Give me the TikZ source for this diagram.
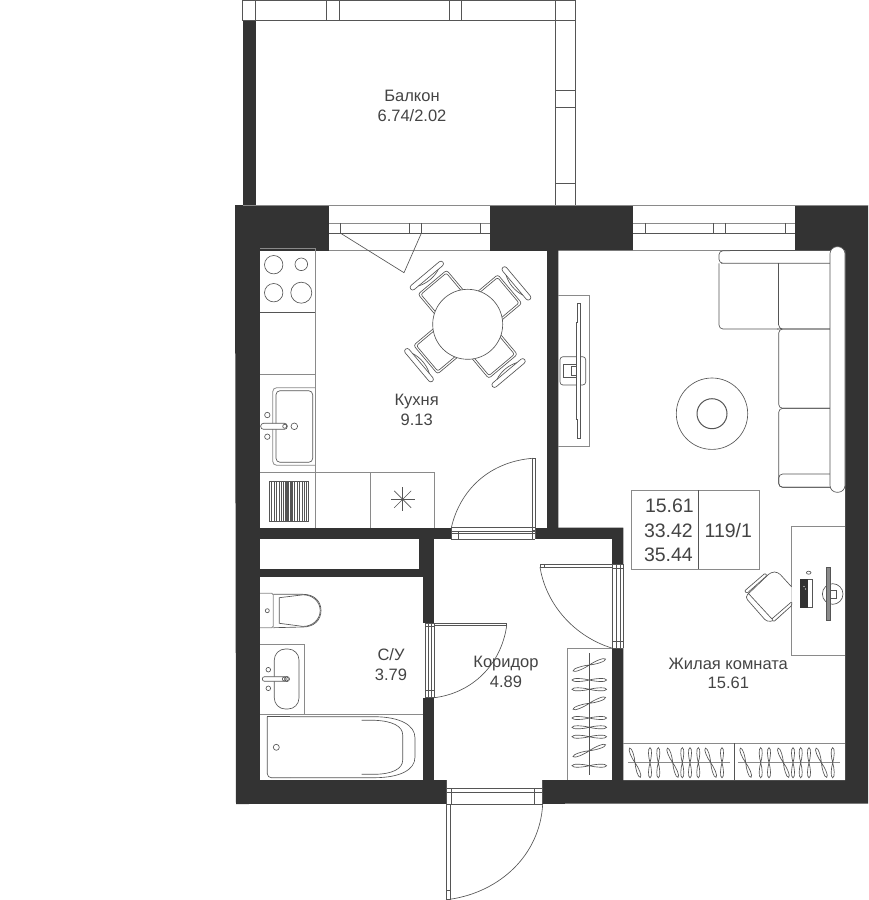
\documentclass[tikz,border=0pt]{standalone}
\usepackage{fontspec}
\setmainfont{Liberation Sans}
\definecolor{wallc}{HTML}{333333}
\definecolor{linec}{HTML}{555555}
\definecolor{lightl}{HTML}{8A8A8A}
\definecolor{textc}{HTML}{444444}
\tikzset{
  thin line/.style={draw=linec,line width=0.65pt},
  soft line/.style={draw=lightl,line width=0.8pt},
  room/.style={fill=white,draw=none},
  wall/.style={fill=wallc,draw=none},
  frame line/.style={draw=linec,line width=0.6pt},
  label text/.style={inner sep=0pt,text=textc,font=\fontsize{16.5}{16.5}\selectfont,text height=11.8pt,text depth=0pt,align=center},
  big text/.style={inner sep=0pt,text=textc,font=\fontsize{19.5}{19.5}\selectfont,text height=14pt,text depth=0pt}
}
\newcommand{\kchair}[3]{% x y angle
  \begin{scope}[shift={(#1,#2)},rotate=#3]
    \draw[thin line,fill=white,rounded corners=2.5pt] (-18.7,-25)--(-18.7,-55)--(18.7,-55)--(18.7,-25);
    \draw[thin line,rounded corners=2pt] (-16.6,-25)--(-16.6,-53)--(16.6,-53)--(16.6,-25);
    \draw[thin line,fill=white,rounded corners=2.6pt] (-21,-61)--(21,-61)--(21,-66.2)--(-21,-66.2)--cycle;
    \draw[thin line] (-13,-61) .. controls (-5,-57.5) and (5,-57.5) .. (13,-61);
  \end{scope}}
\newcommand{\hangpiece}[4]{% x y angle length-scale
  \begin{scope}[shift={(#1,#2)},rotate=#3,xscale=#4]
    \draw[thin line] (0,0) .. controls (-6,-1.6) and (-17,-2.4) .. (-17.3,0) .. controls (-17,2.4) and (-6,1.6) .. (0,0)
      .. controls (6,-1.6) and (17,-2.4) .. (17.3,0) .. controls (17,2.4) and (6,1.6) .. (0,0);
  \end{scope}}
\begin{document}
\begin{tikzpicture}[x=1pt,y=-1pt]
\useasboundingbox (0,0) rectangle (869,900);
\fill[white] (0,0) rectangle (869,900);
% --- walls
\fill[wall] (235,205)--(868,205)--(868,803.5)--(236,804)--cycle;
\fill[wall] (242.7,20.5) rectangle (255.7,205);
% --- rooms
\fill[room] (260,250.5) rectangle (546.7,527.7);
\fill[room] (558.3,250.5)--(845,250.5)--(845,780)--(623.3,780)--(623.3,527.7)--(558.3,527.7)--cycle;
\fill[room] (434.3,539.3) rectangle (612.3,780);
\fill[room] (260,539.3) rectangle (419,569);
\fill[room] (260,577.3) rectangle (422.7,780);
% --- openings
\fill[room] (329.3,205) rectangle (490.3,250.5);
\fill[room] (633,205) rectangle (794.7,250.5);
\fill[room] (451.3,527.7) rectangle (535,539.3);
\fill[room] (612.3,564.3) rectangle (623.3,648.3);
\fill[room] (422.7,623.3) rectangle (434.3,697.7);
\fill[room] (446,780) rectangle (542.7,804);
% --- balcony
\draw[thin line] (242.7,0.5) rectangle (575.7,20.5);
\draw[thin line] (555.3,0.5)--(555.3,205) (575.7,0.5)--(575.7,205);
\draw[thin line] (255.7,0.5)--(255.7,20.5) (326.7,0.5)--(326.7,20.5) (339.7,0.5)--(339.7,20.5) (449.3,0.5)--(449.3,20.5) (461.3,0.5)--(461.3,20.5);
\draw[thin line] (555.3,90)--(575.7,90) (555.3,107.3)--(575.7,107.3) (555.3,183)--(575.7,183);
\draw[soft line] (242.7,205)--(868,205);
% --- kitchen window
\draw[soft line] (329.3,223.3)--(490.3,223.3);
\draw[thin line] (329.3,233.3)--(490.3,233.3);
\draw[thin line] (340.7,223.3)--(340.7,233.3) (409.3,223.3)--(409.3,233.3) (421.3,223.3)--(421.3,233.3) (480.3,223.3)--(480.3,233.3);
\draw[soft line] (329.3,250.5)--(490.3,250.5);
\draw[thin line] (340.7,233.3)--(404,272.7)--(421.3,233.3);
% --- room window
\draw[soft line] (633,223.3)--(794.7,223.3);
\draw[thin line] (633,233.3)--(794.7,233.3);
\draw[thin line] (645,223.3)--(645,233.3) (713.3,223.3)--(713.3,233.3) (725.3,223.3)--(725.3,233.3) (785,223.3)--(785,233.3);
\draw[soft line] (633,250.5)--(794.7,250.5);
% --- kitchen door
\draw[frame line] (451.3,527.7)--(535,527.7) (451.3,531)--(535,531) (451.3,533.5)--(535,533.5) (451.3,539.3)--(535,539.3);
\draw[frame line] (451.3,527.7)--(451.3,539.3) (458,531)--(458,539.3) (532,527.7)--(532,539.3) (535,527.7)--(535,539.3);
\draw[frame line] (532.3,458.3) rectangle (535,530);
\draw[thin line] (532.3,458.3) .. controls (489,462) and (460,490) .. (451.3,527.7);
% --- bathroom door
\draw[frame line] (425.7,623.3)--(425.7,697.7) (428.5,623.3)--(428.5,697.7) (431.5,623.3)--(431.5,697.7) (434.3,623.3)--(434.3,697.7);
\draw[frame line] (425.7,623.3)--(434.3,623.3) (425.7,626.7)--(434.3,626.7) (425.7,690)--(434.3,690) (425.7,697.7)--(434.3,697.7);
\draw[frame line] (434.3,623.3) rectangle (506.7,625.7);
\draw[thin line] (506.7,625.7) .. controls (501,665) and (472,693) .. (434.3,697.7);
% --- room door
\draw[frame line] (612.7,564.3)--(612.7,648.3) (616,564.3)--(616,648.3) (620,564.3)--(620,648.3) (623.3,564.3)--(623.3,648.3);
\draw[frame line] (612.7,564.3)--(623.3,564.3) (612.7,568)--(623.3,568) (612.7,641)--(623.3,641) (612.7,648.3)--(623.3,648.3);
\draw[frame line] (540,564.5) rectangle (612.7,567);
\draw[frame line] (544,564.5)--(544,567);
\draw[thin line] (540,567) .. controls (546,605) and (575,637) .. (612.7,648.3);
% --- entrance door
\draw[frame line] (446,780)--(446,804) (451,788)--(451,804) (534.3,788)--(534.3,804) (542.7,780)--(542.7,804);
\draw[frame line] (446,788)--(542.7,788) (446,792.5)--(542.7,792.5) (446,804)--(542.7,804);
\draw[frame line] (446,804) rectangle (449.8,899.3);
\draw[frame line] (446,890)--(449.8,890);
\draw[thin line] (449.8,899.3) .. controls (500,892) and (540,855) .. (542.7,804);
% --- kitchen furniture
\draw[soft line] (260,248.3)--(315.3,248.3)--(315.3,527.7);
\draw[thin line] (260,312.3)--(315.3,312.3);
\draw[soft line] (260,374.7)--(315.3,374.7);
\draw[soft line] (260,472.7)--(434,472.7)--(434,527.7);
\draw[soft line] (370.3,472.7)--(370.3,527.7);
\draw[thin line] (273.7,264.7) circle (9.2) (301.3,264.3) circle (6.3) (273.7,292.7) circle (9.2) (301.3,292.7) circle (10.5);
% stove star
\foreach \a in {0,45,...,315}{\draw[thin line] (402.7,499.3)--+(\a:12);}
\fill[linec] (402.7,499.3) circle (1.2);
% oven rack
\draw[thin line] (269.3,481.7) rectangle (308.7,521.7);
\foreach \x in {271.5,274,276.5,279,281.5,283.5,285,286.2,287.4,288.6,289.8,291,292.5,294.5,297,299.5,302,304.5,306.5}{\draw[frame line] (\x,481.7)--(\x,521.7);}
% kitchen sink
\draw[soft line,rounded corners=4pt] (315,387.7)--(272.7,387.7)--(272.7,465.3)--(315,465.3);
\draw[thin line,rounded corners=4pt] (276,390.7) rectangle (312.7,462.3);
\draw[thin line,fill=white,rounded corners=2.8pt] (260.7,423.3) rectangle (287.3,429.3);
\draw[thin line] (284.7,426.3) circle (2) (294.3,426.3) circle (3.3) (267.3,415) circle (2.7) (267.3,436.7) circle (2.7);
% chairs and table
\kchair{467.7}{324.3}{-50}
\kchair{467.7}{324.3}{-140}
\kchair{467.7}{324.3}{-230}
\kchair{467.7}{324.3}{-320}
\draw[thin line,fill=white] (467.7,324.3) circle (35);
% --- living room furniture
\draw[soft line] (558.3,295)--(589.3,295)--(589.3,446.7)--(558.3,446.7);
\draw[thin line,rounded corners=3pt] (560,356.7) rectangle (585.7,385);
\draw[thin line] (563.3,364) rectangle (576,377.3);
\draw[thin line] (571.7,366.7) rectangle (576,375);
\draw[thin line,fill=white] (577.7,303.3)--(580.7,303.3)--(580.7,438.7)--(577.7,438.7)--(577.7,419)--(576.7,419)--(576.7,322.7)--(577.7,322.7)--cycle;
\draw[thin line] (712,413.7) circle (35.7);
\draw[line width=1pt,draw=linec] (712,413.7) circle (15);
% sofa
\draw[thin line,rounded corners=4pt] (719,263.3)--(719,329)--(778.7,329);
\draw[thin line,rounded corners=4pt] (830,263.3)--(725,263.3)--(719,263.3)--(719,250.7)--(730,250.7);
\draw[thin line] (730,250.7)--(830,250.7);
\draw[thin line,rounded corners=4pt] (778.7,325)--(778.7,329)--(781,329)--(830,329);
\draw[thin line] (778.7,263.3)--(778.7,325);
\draw[thin line,rounded corners=4pt] (830,329)--(778.7,329)--(778.7,408.3)--(830,408.3);
\draw[thin line,rounded corners=4pt] (830,408.3)--(778.7,408.3)--(778.7,487.3)--(830,487.3);
\draw[thin line,rounded corners=4pt] (830,474)--(778.7,474)--(778.7,487.3)--(830,487.3);
\draw[thin line,fill=white,rounded corners=7pt] (830,246.7) rectangle (845,492.3);
% desk
\draw[soft line] (845,526.7)--(791.7,526.7)--(791.7,655.7)--(845,655.7);
\draw[thin line] (832.7,594) circle (10.3);
\draw[thin line] (830.5,590) rectangle (836,598);
\draw[thin line,fill=lightl] (826,567.7) rectangle (830,620);
\draw[thin line,fill=white] (800,579.3) rectangle (812.7,607.7);
\fill[wallc] (800,579.3) rectangle (808.3,607.7);
\fill[white] (804,586.5) circle (0.7) (805.5,589) circle (0.7);
\draw[thin line] (808.7,572.7) ellipse (2.3 and 1.5);
% desk chair
\draw[thin line,fill=white,rounded corners=3.5pt] (791.7,587)--(778,572)--(771,572)--(745,597)--(767,622)--(776,620)--(791.7,604);
\draw[thin line,rounded corners=1pt] (748,593)--(772,619);
\draw[thin line,fill=white,rounded corners=1pt] (744.5,591)--(765,573.3)--(767,575.5)--(747,593.3)--cycle;
\draw[thin line,fill=white,rounded corners=1pt] (771.7,619)--(791.7,601.7)--(791.7,605.5)--(773.7,621.7)--cycle;
% --- corridor wardrobe
\draw[soft line] (612.3,648.3)--(567.7,648.3)--(567.7,780);
\draw[thin line] (589.3,653.3)--(589.3,775);
\hangpiece{589.3}{665}{20}{1}
\hangpiece{589.3}{680}{0}{1}
\hangpiece{589.3}{689.3}{0}{1}
\hangpiece{589.3}{703.3}{20}{1}
\hangpiece{589.3}{718}{0}{1}
\hangpiece{589.3}{727.3}{0}{1}
\hangpiece{589.3}{736.7}{0}{1}
\hangpiece{589.3}{750.7}{20}{1}
\hangpiece{589.3}{765.7}{0}{1}
% --- bottom wardrobes
\draw[soft line] (623.3,743.3)--(845,743.3);
\draw[thin line] (734.3,743.3)--(734.3,780);
\draw[soft line] (628.3,762.7)--(730,762.7) (738.3,762.7)--(840,762.7);
\foreach \dx in {0,110.7}{
  \hangpiece{635+\dx}{762.7}{-70}{0.9}
  \hangpiece{650+\dx}{762.7}{90}{0.87}
  \hangpiece{658.3+\dx}{762.7}{90}{0.87}
  \hangpiece{672.7+\dx}{762.7}{-70}{0.9}
  \hangpiece{682.3+\dx}{762.7}{90}{0.87}
  \hangpiece{690+\dx}{762.7}{90}{0.87}
  \hangpiece{698.3+\dx}{762.7}{90}{0.87}
  \hangpiece{710.7+\dx}{762.7}{-70}{0.9}
  \hangpiece{722+\dx}{762.7}{90}{0.87}
}
% --- toilet
\draw[soft line,rounded corners=1.5pt] (260,593.3)--(273.3,593.3)--(273.3,627.7)--(260,627.7);
\draw[thin line] (267.3,610.7) circle (2);
\draw[thin line] (273.3,594.3)--(303,594.3) .. controls (314,594.3) and (321,601) .. (321,610.5) .. controls (321,620) and (314,627) .. (303,627)--(273.3,627.7);
\draw[thin line] (279.3,597.7)--(303,594.8) .. controls (313,594.8) and (320.2,602) .. (320.2,610.5) .. controls (320.2,619) and (313,626.4) .. (303,626.4)--(279.3,623.3)--cycle;
% --- bathroom sink
\draw[soft line] (260,644.3)--(304,644.3)--(304,714);
\draw[thin line,rounded corners=11pt] (274.3,649) rectangle (299,709);
\draw[thin line,fill=white,rounded corners=2.2pt] (262.3,676.7) rectangle (288.3,681.3);
\draw[thin line] (284.3,679) circle (2) (287,679) circle (2.5) (268.3,669.7) circle (2.3) (268.3,688.3) circle (2.3);
% --- bath
\draw[soft line] (260,714)--(422.7,714);
\draw[thin line,rounded corners=4pt] (267.3,716.7)--(267.3,777.7)--(290,777.7);
\draw[thin line,rounded corners=4pt] (267.3,716.7)--(290,716.7);
\draw[thin line] (290,716.7)--(375,716.7) .. controls (400,717) and (415,725) .. (415,738)--(415,757) .. controls (415,770) and (400,777.5) .. (375,777.7)--(290,777.7);
\draw[thin line] (361.7,720.3)--(375,720.3) .. controls (392,721) and (402.7,726) .. (402.7,735)--(402.7,760) .. controls (402.7,769) and (392,774) .. (375,774.3)--(361.7,774.3);
\draw[thin line] (276.3,747.3) circle (3);
% --- summary box
\draw[soft line] (631.7,490) rectangle (759.3,569.3);
\draw[thin line] (698.3,490)--(698.3,569.3);
% --- texts
\node[label text] (balcony) at (412,96) {Балкон};
\node[label text] (balconyarea) at (412,116) {6.74/2.02};
\node[label text] (kitchen) at (416.7,400) {Кухня};
\node[label text] (kitchenarea) at (416.7,420) {9.13};
\node[label text] (bath) at (391,655) {С/У};
\node[label text] (batharea) at (391,675) {3.79};
\node[label text] (hall) at (506,661.7) {Коридор};
\node[label text] (hallarea) at (506,681.7) {4.89};
\node[label text] (living) at (728.3,663.3) {Жилая комната};
\node[label text] (livingarea) at (728.3,682.7) {15.61};
\node[big text,anchor=east] (sumA) at (694,505) {15.61};
\node[big text,anchor=east] (sumB) at (693,530) {33.42};
\node[big text,anchor=east] (sumC) at (693,554) {35.44};
\node[big text] (flat) at (728.3,530) {119/1};
\end{tikzpicture}
\end{document}
